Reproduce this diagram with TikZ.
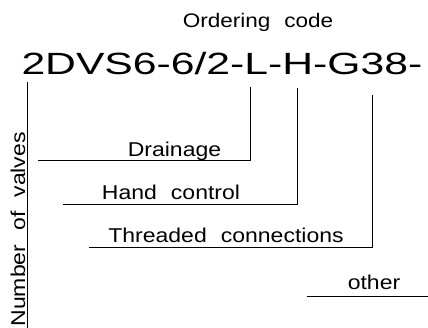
\documentclass[tikz,border=0pt]{standalone}
\usepackage{fontspec}
\setmainfont{Liberation Sans}
\newfontfamily\cadfont[FakeStretch=1.15,WordSpace=2.2]{Liberation Sans}
\newfontfamily\codefont[FakeStretch=1.39]{Liberation Sans}
\usetikzlibrary{calc}

\begin{document}
\begin{tikzpicture}[x=1pt,y=-1pt,line width=1pt,
    label text/.style={font=\cadfont\fontsize{20}{24}\selectfont,inner sep=0pt,anchor=base}]
  \useasboundingbox (0,0) rectangle (428,328);

  \node[label text,font=\cadfont\fontsize{19.6}{24}\selectfont] (title node) at (258,27.7) {Ordering code};
  \node[font=\codefont\fontsize{30.7}{36}\selectfont,inner sep=0pt,anchor=base west] (code node) at (21,75) {2DVS6-6/2-L-H-G38-};

  % number of valves
  \coordinate (valves top) at (27,82);
  \coordinate (valves end) at (27,328);
  \draw (valves top) -- (valves end);
  \node[label text,rotate=90,anchor=base west] (valves node) at (25,327) {Number of valves};

  % drainage
  \coordinate (drain top) at (250,87);
  \coordinate (drain corner) at (250,161);
  \coordinate (drain end) at (38,161);
  \draw (drain top) -- (drain corner) -- (drain end);
  \node[label text] (drain node) at (174.5,156.7) {Drainage};

  % hand control
  \coordinate (hand top) at (297,88);
  \coordinate (hand corner) at (297,205);
  \coordinate (hand end) at (63,205);
  \draw (hand top) -- (hand corner) -- (hand end);
  \node[label text] (hand node) at (171,200) {Hand control};

  % threaded connections
  \coordinate (thread top) at (372,95);
  \coordinate (thread corner) at (372,248);
  \coordinate (thread end) at (89,248);
  \draw (thread top) -- (thread corner) -- (thread end);
  \node[label text] (thread node) at (226,243) {Threaded connections};

  % other
  \coordinate (other start) at (307,297);
  \coordinate (other end) at (428,297);
  \draw (other start) -- (other end);
  \node[label text] (other node) at (374,290) {other};

\end{tikzpicture}
\end{document}
